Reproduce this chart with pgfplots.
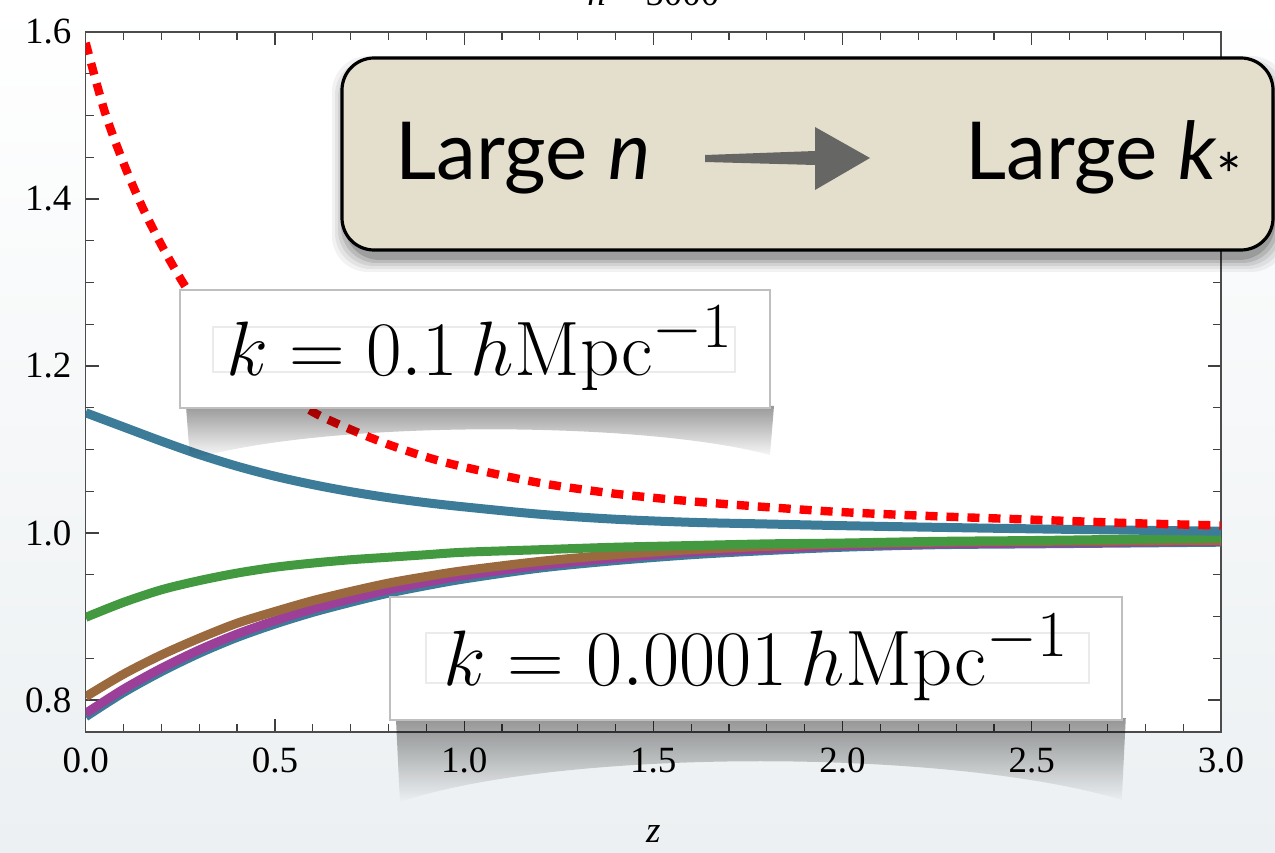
\documentclass[border=0pt]{standalone}
\usepackage[no-math]{fontspec}
\setmainfont{Liberation Serif}
\newfontfamily\slidefont{Lato}
\usepackage{pgfplots}
\pgfplotsset{compat=1.18}
\usetikzlibrary{fadings}
\definecolor{mteal}{RGB}{61,124,153}
\definecolor{mgreen}{RGB}{66,153,63}
\definecolor{mbrown}{RGB}{154,106,62}
\definecolor{mpurple}{RGB}{155,63,152}
\definecolor{beige}{RGB}{228,223,204}
\definecolor{slidebg}{RGB}{236,240,242}
\tikzfading[name=fadedown, top color=transparent!0, bottom color=transparent!100]
\begin{document}
\begin{tikzpicture}
\useasboundingbox (-42.85pt,-60pt) rectangle (594.65pt,366pt);
\clip (-42.85pt,-60pt) rectangle (594.65pt,366pt);
\shade[top color=white, bottom color=slidebg] (-42.85pt,-60pt) rectangle (594.65pt,366pt);
\begin{axis}[
  at={(0,0)}, anchor=south west, scale only axis,
  width=567.65pt, height=350pt,
  xmin=0, xmax=3, ymin=0.7617, ymax=1.6,
  axis background/.style={fill=white},
  xtick={0,0.5,1,1.5,2,2.5,3},
  ytick={0.8,1.0,1.2,1.4,1.6},
  minor x tick num=4, minor y tick num=3,
  tick align=inside, major tick length=6.5pt, minor tick length=4pt,
  every tick/.style={black!75, line width=0.6pt},
  axis line style={black!70, line width=0.8pt},
  /pgf/number format/fixed, /pgf/number format/fixed zerofill,
  /pgf/number format/precision=1, /pgf/number format/assume math mode=true,
  tick label style={font=\fontsize{18.5}{20}\selectfont},
  x tick label style={anchor=base, yshift=-20pt},
  y tick label style={anchor=east, inner sep=0pt, xshift=-7pt},
  title={\textit{n} = 5000},
  title style={at={(0.5,1)}, anchor=base, yshift=7pt, font=\fontsize{18.5}{20}\selectfont},
  xlabel={\textit{z}},
  xlabel style={at={(0.5,0)}, anchor=base, yshift=-55pt, font=\fontsize{18.5}{20}\selectfont},
]
\addplot[mteal, line width=4.5pt, smooth] coordinates {
(0,0.780)(0.1,0.809)(0.2,0.834)(0.3,0.856)(0.4,0.875)(0.5,0.891)(0.6,0.905)(0.7,0.917)(0.8,0.928)(0.9,0.937)(1.0,0.945)(1.2,0.958)(1.4,0.967)(1.6,0.974)(1.8,0.979)(2.0,0.983)(2.25,0.986)(2.5,0.987)(2.75,0.988)(3.0,0.989)};
\addplot[mpurple, line width=4.5pt, smooth] coordinates {
(0,0.784)(0.1,0.813)(0.2,0.838)(0.3,0.860)(0.4,0.879)(0.5,0.895)(0.6,0.909)(0.7,0.921)(0.8,0.932)(0.9,0.941)(1.0,0.949)(1.2,0.961)(1.4,0.970)(1.6,0.977)(1.8,0.981)(2.0,0.985)(2.25,0.987)(2.5,0.988)(2.75,0.989)(3.0,0.990)};
\addplot[mbrown, line width=4.5pt, smooth] coordinates {
(0,0.804)(0.1,0.831)(0.2,0.854)(0.3,0.874)(0.4,0.892)(0.5,0.906)(0.6,0.919)(0.7,0.930)(0.8,0.940)(0.9,0.948)(1.0,0.955)(1.2,0.966)(1.4,0.974)(1.6,0.980)(1.8,0.984)(2.0,0.987)(2.25,0.989)(2.5,0.990)(2.75,0.9905)(3.0,0.991)};
\addplot[mgreen, line width=4.5pt, smooth] coordinates {
(0,0.899)(0.1,0.917)(0.2,0.932)(0.3,0.943)(0.4,0.952)(0.5,0.959)(0.6,0.964)(0.7,0.968)(0.8,0.971)(0.9,0.974)(1.0,0.977)(1.2,0.980)(1.4,0.983)(1.6,0.985)(1.8,0.987)(2.0,0.988)(2.25,0.990)(2.5,0.991)(2.75,0.9925)(3.0,0.994)};
\addplot[mteal, line width=4.5pt, smooth] coordinates {
(0,1.144)(0.1,1.127)(0.2,1.110)(0.3,1.094)(0.4,1.080)(0.5,1.068)(0.6,1.058)(0.7,1.0495)(0.8,1.0423)(0.9,1.0363)(1.0,1.0313)(1.2,1.0225)(1.4,1.0165)(1.6,1.0128)(1.8,1.0108)(2.0,1.0088)(2.25,1.0068)(2.5,1.0050)(2.75,1.0035)(3.0,1.0022)};
\addplot[red, line width=4.2pt, dash pattern=on 6pt off 4.5pt, smooth] coordinates {
(0,1.587)(0.05,1.505)(0.1,1.443)(0.15,1.390)(0.2,1.345)(0.25,1.305)(0.3,1.270)(0.35,1.242)(0.4,1.217)(0.45,1.195)(0.5,1.175)(0.6,1.145)(0.7,1.124)(0.8,1.106)(0.9,1.091)(1.0,1.079)(1.2,1.060)(1.4,1.047)(1.6,1.038)(1.8,1.031)(2.0,1.025)(2.25,1.020)(2.5,1.016)(2.75,1.012)(3.0,1.009)};
\end{axis}
\begin{scope}[shift={(-42.85pt,366pt)}, x=0.5pt, y=-0.5pt]
  % k = 0.1 box
  \fill[black, opacity=0.4, path fading=fadedown] (186,406) -- (190,460) .. controls (320,420) and (640,420) .. (770,455) -- (774,406) -- cycle;
  \filldraw[fill=white, draw=black!25, line width=0.6pt] (180,290) rectangle (770,408);
  \draw[black!8, line width=0.8pt] (213,327) rectangle (735,372);
  \node[anchor=base, inner sep=0pt, scale=1.55] at (480,375) {\Huge $k = 0.1\,h\mathrm{Mpc}^{-1}$};
  % k = 0.0001 box
  \fill[black, opacity=0.42, path fading=fadedown] (396,718) -- (400,802) .. controls (560,748) and (950,748) .. (1122,800) -- (1126,718) -- cycle;
  \filldraw[fill=white, draw=black!25, line width=0.6pt] (390,597) rectangle (1122,720);
  \draw[black!8, line width=0.8pt] (426,633) rectangle (1089,683);
  \node[anchor=base, inner sep=0pt, scale=1.58] at (756,685) {\Huge $k = 0.0001\,h\mathrm{Mpc}^{-1}$};
  % Large n -> Large k* box with soft shadow
  \foreach \s/\o in {14/0.05,11/0.06,8/0.08,5/0.11,2/0.15}{
    \fill[black, opacity=\o, rounded corners=18pt] (342-\s+4,70-\s) rectangle (1273+\s,258+\s);
  }
  \draw[line width=1.6pt, fill=beige, rounded corners=16pt] (342,58) rectangle (1273,250);
  \node[anchor=base west, inner sep=0pt, font=\slidefont\fontsize{40}{44}\selectfont] at (395,180) {Large \textit{n}};
  \node[anchor=base west, inner sep=0pt, font=\slidefont\fontsize{40}{44}\selectfont] at (965,180) {Large \textit{k}\raisebox{-9pt}{\fontsize{30}{30}\selectfont *}};
  \fill[black!65, opacity=0.9] (705,155) -- (815,151) -- (815,127) -- (870,158) -- (815,190) -- (815,165) -- (705,162) -- cycle;
\end{scope}
\end{tikzpicture}
\end{document}
